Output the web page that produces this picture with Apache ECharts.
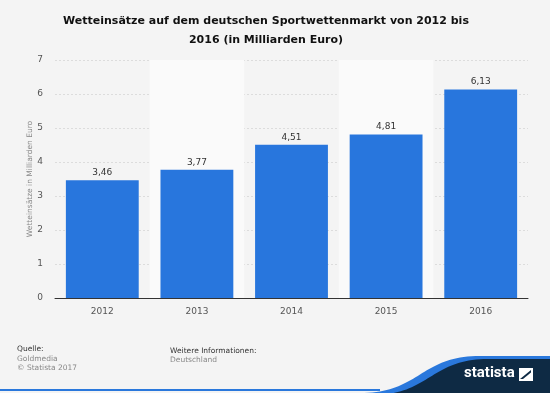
<!DOCTYPE html>
<html><head><meta charset="utf-8">
<script src="https://cdn.jsdelivr.net/npm/echarts@6/dist/echarts.min.js"></script>
<style>html,body{margin:0;padding:0;background:#f4f4f4}#c{width:550px;height:393px}</style>
</head><body><div id="c"></div>
<script>
const categories = ['2012','2013','2014','2015','2016'];
const values = [3.46, 3.77, 4.51, 4.81, 6.13];
const yTicks = [0,1,2,3,4,5,6,7];
const title = 'Wetteinsätze auf dem deutschen Sportwettenmarkt von 2012 bis\n2016 (in Milliarden Euro)';
const yName = 'Wetteinsätze in Milliarden Euro';

function wave(x0, x1, yTop, yBot) {
  const pts = [];
  for (let i = 0; i <= 40; i++) {
    const t = i / 40, u = 1 - t;
    const cx1 = x0 + (x1 - x0) * 0.5, cx2 = x0 + (x1 - x0) * 0.5;
    const x = u*u*u*x0 + 3*u*u*t*cx1 + 3*u*t*t*cx2 + t*t*t*x1;
    const y = u*u*u*yBot + 3*u*u*t*yBot + 3*u*t*t*yTop + t*t*t*yTop;
    pts.push([x, y]);
  }
  pts.push([550, yTop], [550, 393], [x0, 393]);
  return pts;
}

const chart = echarts.init(document.getElementById('c'), null, {renderer:'canvas'});
const font = '"DejaVu Sans", sans-serif';
chart.setOption({
  backgroundColor: '#f4f4f4',
  animation: false,
  title: {
    text: title, left: 261, top: 7, textAlign: 'center',
    textStyle: {fontFamily: font, fontSize: 11, fontWeight: 'bold', color: '#111', lineHeight: 19}
  },
  grid: {left: 55, right: 22, top: 60, bottom: 95, containLabel: false},
  xAxis: {
    type: 'category', data: categories,
    axisLine: {lineStyle: {color: '#333', width: 1}},
    axisTick: {show: false},
    axisLabel: {fontFamily: font, fontSize: 9, color: '#555', margin: 9},
    splitArea: {show: true, areaStyle: {color: ['rgba(0,0,0,0)', '#fafafa']}}
  },
  yAxis: {
    type: 'value', min: yTicks[0], max: yTicks[yTicks.length-1], interval: 1,
    name: yName, nameLocation: 'middle', nameGap: 21, nameRotate: 90, nameMoveOverlap: false,
    nameTextStyle: {fontFamily: font, fontSize: 7.5, color: '#888'},
    axisLine: {show: false}, axisTick: {show: false},
    axisLabel: {fontFamily: font, fontSize: 9, color: '#555', margin: 12},
    splitLine: {lineStyle: {color: '#dcdcdc', type: [2,2], width: 1}}
  },
  series: [{
    type: 'bar', data: values, barWidth: '77%',
    itemStyle: {color: '#2876dd'},
    label: {show: true, position: 'top', distance: 3, fontFamily: font, fontSize: 9, color: '#333',
      formatter: p => p.value.toFixed(2).replace('.', ',')}
  }],
  graphic: [
    {type: 'text', x: 17, y: 345, style: {text: 'Quelle:', font: '7.5px ' + font, fill: '#333'}},
    {type: 'text', x: 17, y: 355, style: {text: 'Goldmedia', font: '7.5px ' + font, fill: '#888'}},
    {type: 'text', x: 17, y: 364, style: {text: '© Statista 2017', font: '7.5px ' + font, fill: '#888'}},
    {type: 'text', x: 170, y: 347, style: {text: 'Weitere Informationen:', font: '7.5px ' + font, fill: '#333'}},
    {type: 'text', x: 170, y: 356, style: {text: 'Deutschland', font: '7.5px ' + font, fill: '#888'}},
    {type: 'polygon', shape: {points: wave(360, 480, 356, 393)}, style: {fill: '#2a78dc'}},
    {type: 'polygon', shape: {points: wave(372, 488, 359, 395)}, style: {fill: '#0e2a44'}},
    {type: 'rect', shape: {x: 0, y: 389, width: 380, height: 2}, style: {fill: '#2a78dc'}},
    {type: 'text', x: 464, y: 366, style: {text: 'statista', font: 'bold 15px Roboto, sans-serif', fill: '#fff'}},
    {type: 'rect', shape: {x: 519, y: 368, width: 14, height: 13}, style: {fill: '#fff'}},
    {type: 'polygon', shape: {points: [[520, 379], [531, 370], [531, 372.5], [523, 379]]}, style: {fill: '#0e2a44'}}
  ]
});
</script></body></html>
